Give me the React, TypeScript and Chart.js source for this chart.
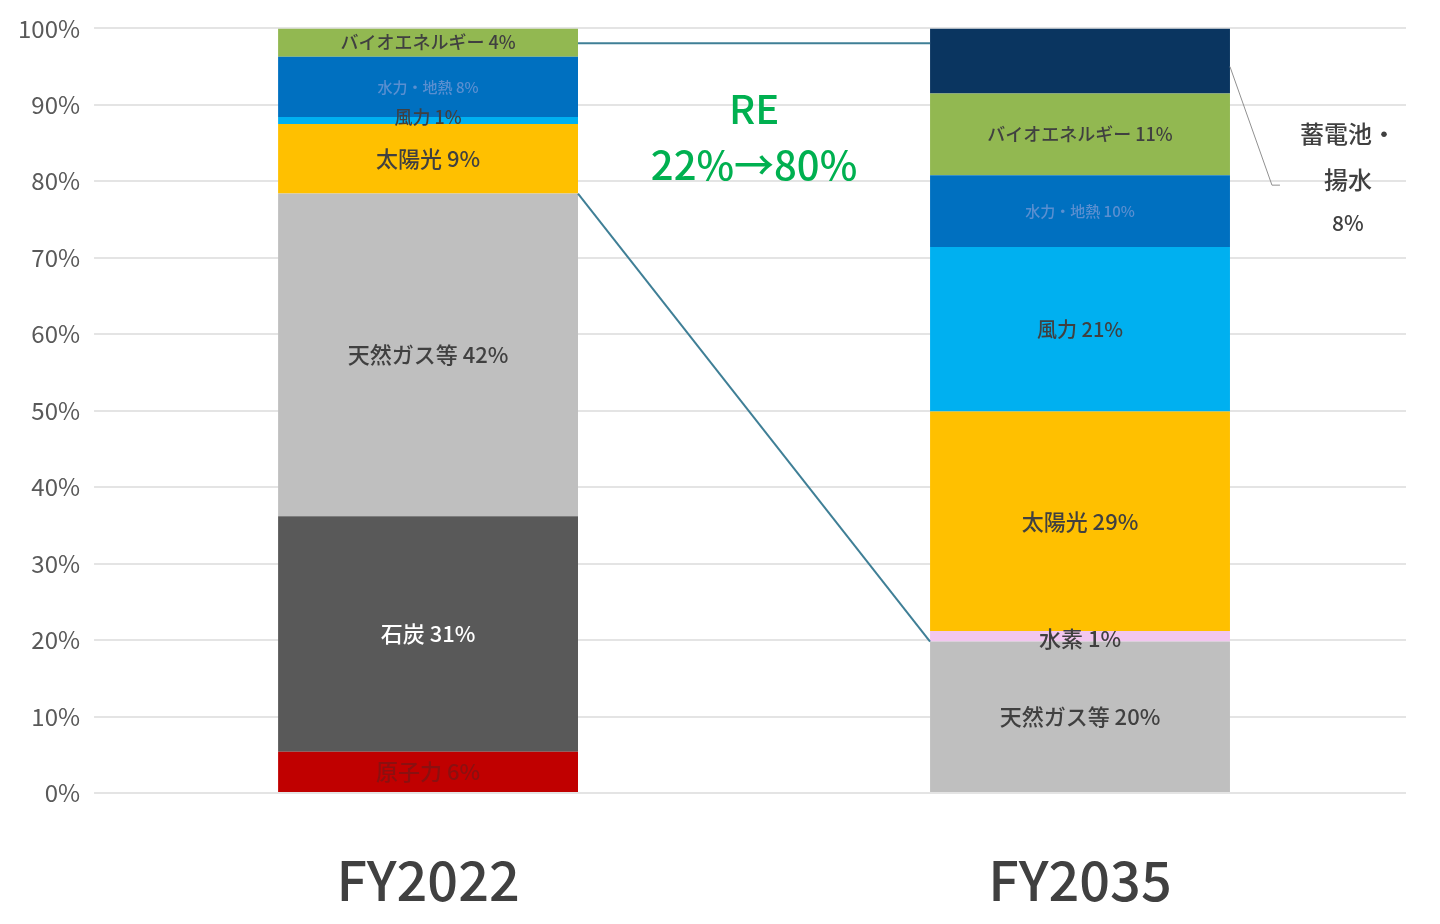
import React, { useEffect, useRef } from 'react';
import Chart from 'chart.js/auto';

const years = ['FY2022', 'FY2035'];
const names = ['原子力', '石炭', '天然ガス等', '水素', '太陽光', '風力', '水力・地熱', 'バイオエネルギー', '蓄電池・揚水'];
const nuclear = [5.4, 0];
const coal = [30.8, 0];
const gas = [42.2, 19.8];
const hydrogen = [0, 1.4];
const solar = [9.1, 28.7];
const wind = [0.9, 21.5];
const hydro = [7.9, 9.4];
const bio = [3.7, 10.7];
const storage = [0, 8.5];
const shareLabels = [
  ['6%', ''],
  ['31%', ''],
  ['42%', '20%'],
  ['', '1%'],
  ['9%', '29%'],
  ['1%', '21%'],
  ['8%', '10%'],
  ['4%', '11%'],
  ['', ''],
];
const colors = ['#c00000', '#595959', '#bfbfbf', '#f2c6ef', '#ffc000', '#00b0f0', '#0070c0', '#92b851', '#0a3560'];
const labelColors = ['#8a1010', '#ffffff', '#404040', '#404040', '#404040', '#404040', '#5a8fd0', '#404040', '#ffffff'];
const labelSizes = [[22, 0], [22, 0], [22, 22], [0, 22], [22, 22], [18, 20], [15, 15], [18, 18], [0, 0]];

const FONT = '"Noto Sans CJK JP", "Noto Sans", sans-serif';

const overlay = {
  id: 'overlay',
  afterDatasetsDraw(chart: any) {
    const ctx = chart.ctx;
    const y = chart.scales.y;
    const x = chart.scales.x;
    ctx.save();
    // segment labels
    chart.data.datasets.forEach((ds: any, di: number) => {
      const meta = chart.getDatasetMeta(di);
      meta.data.forEach((el: any, i: number) => {
        const txt = shareLabels[di][i];
        if (!txt) return;
        const size = labelSizes[di][i];
        ctx.font = `500 ${size}px ${FONT}`;
        ctx.fillStyle = labelColors[di];
        ctx.textAlign = 'center';
        ctx.textBaseline = 'middle';
        let cy = (el.y + el.base) / 2;
        if (di === 5 && i === 0) cy -= 3;
        if (di === 3) cy += 2;
        ctx.fillText(names[di] + ' ' + txt, el.x, cy);
      });
    });
    // category labels
    ctx.fillStyle = '#404040';
    ctx.font = `500 54px ${FONT}`;
    ctx.textAlign = 'center';
    ctx.textBaseline = 'middle';
    years.forEach((yr, i) => ctx.fillText(yr, x.getPixelForValue(i), 880));
    // connectors
    const m0 = chart.getDatasetMeta(0).data[0];
    const m1 = chart.getDatasetMeta(0).data[1];
    const r0 = m0.x + m0.width / 2;
    const l1 = m1.x - m1.width / 2;
    const r1 = m1.x + m1.width / 2;
    ctx.strokeStyle = '#3f7f96';
    ctx.lineWidth = 2;
    const topRe = 100 - bio[0] / 2 - 0.1;
    ctx.beginPath();
    ctx.moveTo(r0, y.getPixelForValue(topRe));
    ctx.lineTo(l1, y.getPixelForValue(topRe));
    ctx.stroke();
    const a = nuclear[0] + coal[0] + gas[0];
    const b = gas[1];
    ctx.beginPath();
    ctx.moveTo(r0, y.getPixelForValue(a));
    ctx.lineTo(l1, y.getPixelForValue(b));
    ctx.stroke();
    // storage leader
    ctx.strokeStyle = '#909090';
    ctx.lineWidth = 1;
    ctx.beginPath();
    ctx.moveTo(r1, y.getPixelForValue(95));
    ctx.lineTo(r1 + 42, y.getPixelForValue(79.5));
    ctx.lineTo(r1 + 50, y.getPixelForValue(79.5));
    ctx.stroke();
    ctx.fillStyle = '#404040';
    ctx.font = `500 24px ${FONT}`;
    ctx.textBaseline = 'alphabetic';
    ctx.fillText('蓄電池・', r1 + 118, y.getPixelForValue(85));
    ctx.fillText('揚水', r1 + 118, y.getPixelForValue(79));
    ctx.font = `500 21px ${FONT}`;
    ctx.fillText('8%', r1 + 118, y.getPixelForValue(73.5));
    // RE text
    const mid = (r0 + l1) / 2;
    ctx.fillStyle = '#00b050';
    ctx.font = `500 40px ${FONT}`;
    ctx.fillText('RE', mid, y.getPixelForValue(87.5));
    ctx.fillText('22%→80%', mid, y.getPixelForValue(80.2));
    ctx.restore();
  },
};

const App: React.FC = () => {
  const chartRef = useRef<HTMLCanvasElement | null>(null);
  const chartInstance = useRef<Chart | null>(null);

  useEffect(() => {
    document.body.style.margin = '0';
    const ctx = chartRef.current?.getContext('2d');
    if (!ctx) return;
    const series = [nuclear, coal, gas, hydrogen, solar, wind, hydro, bio, storage];
    //@ts-ignore
    chartInstance.current = new Chart(ctx, {
      type: 'bar',
      data: {
        labels: years,
        datasets: series.map((d, i) => ({
          label: names[i],
          data: d,
          backgroundColor: colors[i],
          categoryPercentage: 0.92,
          barPercentage: 0.5,
        })),
      },
      options: {
        animation: false,
        responsive: true,
        maintainAspectRatio: false,
        layout: { padding: { top: -3, right: 34, bottom: 123, left: 4 } },
        plugins: { legend: { display: false }, tooltip: { enabled: false } },
        scales: {
          x: {
            stacked: true,
            grid: { display: false },
            border: { display: false },
            ticks: { display: false },
          },
          y: {
            stacked: true,
            min: 0,
            max: 100,
            border: { display: false },
            grid: { color: '#e4e4e4', lineWidth: 2 },
            ticks: {
              stepSize: 10,
              color: '#595959',
              padding: 14,
              font: { size: 24, family: FONT },
              callback: (v: any) => v + '%',
            },
          },
        },
      },
      plugins: [overlay],
    });
    return () => {
      chartInstance.current?.destroy();
    };
  }, []);

  return (
    <div style={{ width: 1440, height: 924, background: '#fff' }}>
      <canvas ref={chartRef} />
    </div>
  );
};

export default App;
